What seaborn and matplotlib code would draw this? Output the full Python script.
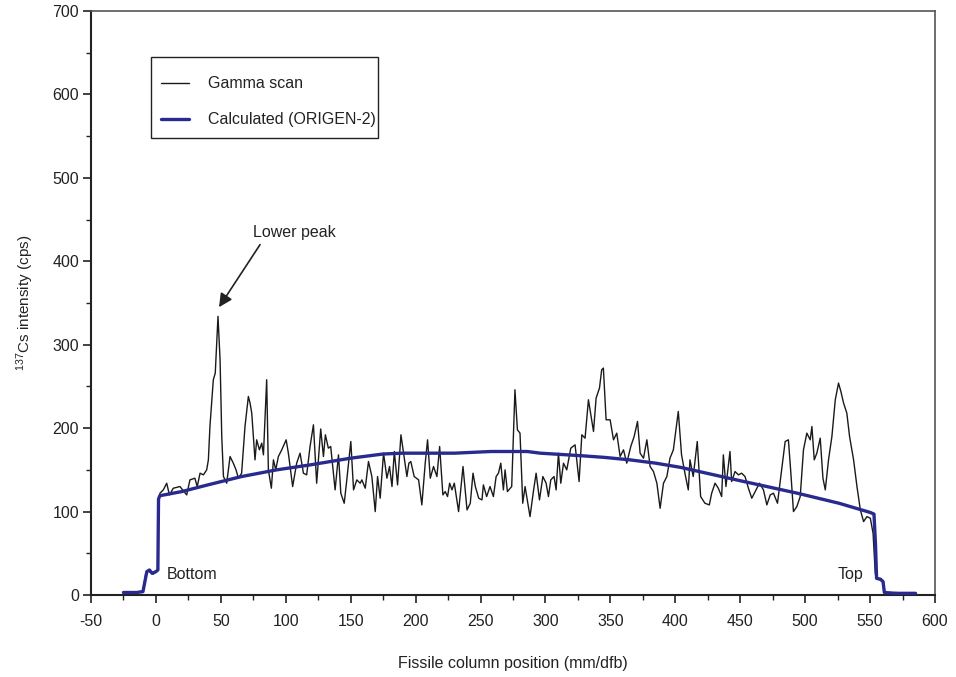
import numpy as np
import pandas as pd
import matplotlib
matplotlib.use("Agg")
import matplotlib.pyplot as plt
import seaborn as sns
from matplotlib.ticker import MultipleLocator
from matplotlib.patches import Rectangle

# ---- data ----
scan_x = [-25, -20, -15, -10, -8, -6, -4, -2, 0, 1.5, 2.0, 3.1, 5.7, 8.3, 10.4, 13.4, 18.5, 23.7, 26.2, 30, 31.8, 34, 36.6,
          39.1, 40.4, 41.6, 44.2, 45.7, 47.8, 49.4, 50.7, 52, 54.5, 57.1, 59.6, 61.7, 63.5, 66, 68.6, 71.2, 72.5,
          73.8, 76.3, 77.6, 79.7, 81.5, 82.8, 85.3, 86.6, 88.9, 90.5, 92.3, 94.3, 96.9, 100.3, 102, 105.3,
          108.4, 111, 113.6, 116.1, 118.7, 121.3, 123.8, 126.9, 129, 130.5, 132.8, 134.6, 138, 140.6, 142.4,
          145, 147, 150.1, 152.2, 154.7, 157.3, 158.6, 161.2, 163.7, 166.3, 168.9, 170.7, 172.7, 175.3, 177.9,
          179.9, 181.8, 183.6, 186.1, 188.7, 190.7, 193.3, 194.8, 196.3, 198.9, 202.3, 204.8, 207.4, 209.2,
          211.3, 213.8, 216.4, 218.5, 221, 222.8, 224.6, 226.2, 228, 229.8, 233.1, 236.5, 239.6, 242.1, 244.2,
          246, 248.6, 251.1, 252.2, 254.7, 257.3, 259.9, 262, 263.8, 265.6, 267.6, 268.9, 270.7, 274, 276.5,
          278.4, 280.4, 282.5, 284.3, 288.1, 290.7, 292.8, 295.4, 298, 300.5, 302.3, 304.1, 306.6, 308.2, 310,
          311.8, 313.9, 316.4, 319.5, 322.8, 325.9, 328, 330.5, 333.1, 337, 339, 341.6, 343.3, 344.6, 346.7,
          349.8, 352.4, 354.9, 357.5, 360.1, 362.6, 365.7, 368.3, 370.9, 372.9, 375.5, 378.1, 380.6, 383.2,
          385.8, 388.3, 390.9, 393.5, 395.9, 398.5, 402.3, 404.8, 407.4, 410, 411.3, 413.8, 416.9, 419.5,
          422.8, 426.2, 428, 430.6, 433.1, 435.7, 437, 439, 442.1, 443.4, 446, 448.6, 451.1, 453.7, 456.3,
          458.9, 462.2, 464.8, 467.9, 470.5, 473.1, 475.6, 478.7, 482, 484.6, 487.1, 488.9, 491, 493.6, 496.2,
          498.7, 501.3, 503.9, 505.2, 507, 509, 511.6, 513.7, 515.5, 518, 520.6, 523.2, 525.7, 527.5, 529.6,
          532.1, 534.2, 537.3, 539.9, 542.5, 545, 547.6, 550.2, 552.3, 554, 555, 558, 560, 561, 565, 570,
          575, 580, 585]
scan_y = [3, 3, 3, 5, 24, 29, 27, 25, 28, 30, 112, 122, 126, 134, 120, 128, 130, 120, 138, 140, 130, 146, 144,
          150, 162, 202, 258, 266, 334, 282, 190, 142, 134, 166, 158, 150, 140, 146, 202, 238, 230,
          218, 162, 186, 174, 182, 168, 258, 150, 128, 162, 150, 166, 174, 186, 170, 130,
          158, 170, 146, 144, 178, 204, 134, 199, 166, 192, 176, 178, 126, 168, 122,
          110, 138, 184, 126, 138, 134, 138, 128, 160, 142, 100, 142, 116, 170, 140,
          154, 130, 172, 132, 192, 170, 142, 158, 160, 142, 138, 108, 158, 186,
          140, 154, 142, 178, 120, 124, 118, 134, 126, 134, 100, 154, 102, 110, 146,
          130, 116, 114, 132, 118, 130, 118, 142, 146, 158, 126, 150, 124, 130, 246,
          198, 194, 110, 130, 94, 124, 146, 114, 142, 134, 118, 138, 142, 126, 170,
          134, 158, 150, 176, 180, 136, 192, 188, 234, 196, 236, 248, 270, 272, 210,
          210, 186, 194, 166, 174, 158, 178, 190, 208, 170, 164, 186, 154, 148,
          134, 104, 134, 142, 164, 174, 220, 168, 146, 126, 162, 142, 184, 118,
          110, 108, 122, 134, 128, 118, 168, 130, 172, 136, 148, 144, 146, 142, 128,
          116, 126, 134, 126, 108, 120, 122, 110, 152, 184, 186, 148, 100, 106, 118,
          174, 194, 186, 202, 162, 170, 188, 140, 126, 162, 190, 234, 254, 244, 230,
          218, 190, 162, 130, 102, 88, 94, 92, 74, 26, 19, 18, 15, 3, 2, 3,
          2, 2, 1]

calc_x = [-25, -15, -10, -7, -5, -3, 0, 1.5, 2.0, 3, 20, 40, 66, 93, 119, 150, 175, 190, 230, 258, 286, 296,
          327, 345, 365, 385, 404, 447, 494, 526, 550, 553, 554.2, 555, 558, 560, 561, 570, 585]
calc_y = [3, 3, 4, 28, 30, 26, 28, 30, 115, 119, 124, 132, 142, 150, 156, 164, 169, 170, 170, 172, 172, 170,
          167, 165, 162, 158, 153, 138, 122, 110, 99, 97, 60, 20, 19, 16, 3, 2, 2]

x_ticks = [-50, 0, 50, 100, 150, 200, 250, 300, 350, 400, 450, 500, 550, 600]
y_ticks = [0, 100, 200, 300, 400, 500, 600, 700]

sns.set_style("ticks")
plt.rcParams['font.family'] = ['Liberation Sans', 'DejaVu Sans']
plt.rcParams['mathtext.fontset'] = 'custom'
plt.rcParams['mathtext.rm'] = 'Liberation Sans'
plt.rcParams['mathtext.it'] = 'Liberation Sans'

FS = 11.5
TXT = "#222222"

fig = plt.figure(figsize=(9.56, 6.77), dpi=100)
ax = fig.add_axes([91/956, 82/677, 844/956, 584/677])

df_scan = pd.DataFrame({"x": scan_x, "y": scan_y})
df_calc = pd.DataFrame({"x": calc_x, "y": calc_y})

sns.lineplot(data=df_scan, x="x", y="y", ax=ax, color="#1a1a1a", lw=1.0, sort=False,
             estimator=None, label="Gamma scan", zorder=2)
sns.lineplot(data=df_calc, x="x", y="y", ax=ax, color="#292a8e", lw=2.4, sort=False,
             estimator=None, label="Calculated (ORIGEN-2)", zorder=3)

ax.set_xlim(-50, 600)
ax.set_ylim(0, 700)
ax.set_xticks(x_ticks)
ax.set_yticks(y_ticks)
ax.set_xticklabels([str(v) for v in x_ticks])
ax.set_yticklabels([str(v) for v in y_ticks])
ax.xaxis.set_minor_locator(MultipleLocator(25))
ax.yaxis.set_minor_locator(MultipleLocator(50))
ax.tick_params(which="major", direction="out", length=6, width=1.2, labelsize=FS,
               colors=TXT)
ax.tick_params(axis="x", which="major", pad=8)
ax.tick_params(axis="y", which="major", pad=2.5)
ax.tick_params(which="minor", direction="out", length=3.5, width=1.0, colors=TXT)

for s in ["left", "bottom"]:
    ax.spines[s].set_color(TXT)
    ax.spines[s].set_linewidth(1.5)
for s in ["top", "right"]:
    ax.spines[s].set_visible(True)
    ax.spines[s].set_color("#555555")
    ax.spines[s].set_linewidth(1.2)

ax.set_xlabel("Fissile column position (mm/dfb)", fontsize=FS, color=TXT, labelpad=19)
ax.set_ylabel(r"$^{137}$Cs intensity (cps)", fontsize=11, color=TXT, labelpad=12)

ax.annotate("", xy=(48.6, 345), xytext=(80.2, 420),
            arrowprops=dict(arrowstyle="-|>", color=TXT, lw=1.2, mutation_scale=20,
                            shrinkA=0, shrinkB=0))
ax.text(107, 435, "Lower peak", fontsize=FS, color=TXT, ha="center", va="center")
ax.text(8.5, 24, "Bottom", fontsize=FS, color=TXT, ha="left", va="center")
ax.text(525, 25, "Top", fontsize=FS, color=TXT, ha="left", va="center")

# legend (frame drawn as a separate box to match the reference proportions)
leg = ax.legend(loc="upper left", bbox_to_anchor=(0.0829, 0.888), frameon=False,
                fontsize=FS, handlelength=1.75, handletextpad=1.2, labelspacing=1.3,
                borderpad=0, borderaxespad=0)
for t in leg.get_texts():
    t.set_color(TXT)
ax.add_patch(Rectangle((0.0711, 0.7825), 0.340 - 0.0711, 0.9212 - 0.7825,
                       transform=ax.transAxes, fill=True, facecolor="white",
                       edgecolor=TXT, lw=1.0, zorder=4))
leg.set_zorder(5)

fig.savefig("out.png", dpi=100)
